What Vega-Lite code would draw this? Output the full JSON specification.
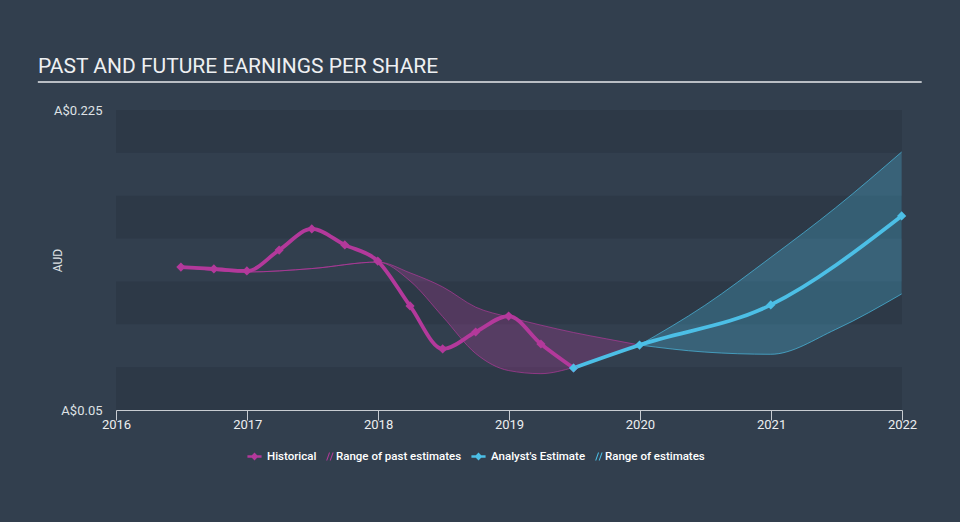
{
  "$schema": "https://vega.github.io/schema/vega-lite/v6.json",
  "autosize": {"type": "none"},
  "width": 786,
  "height": 300,
  "padding": {"left": 116, "top": 110, "right": 58, "bottom": 112},
  "background": "#323f4e",
  "config": {
    "view": {"stroke": null},
    "font": "Roboto"
  },
  "title": {
    "text": "PAST AND FUTURE EARNINGS PER SHARE",
    "anchor": "start",
    "frame": "group",
    "dx": -78,
    "offset": 4,
    "fontSize": 21,
    "font": "Roboto",
    "fontWeight": "normal",
    "color": "#eef0f2"
  },
  "datasets": {
    "bands": [
      {"lo": 0.05, "hi": 0.075, "shade": "dark"},
      {"lo": 0.1, "hi": 0.125, "shade": "dark"},
      {"lo": 0.15, "hi": 0.175, "shade": "dark"},
      {"lo": 0.2, "hi": 0.225, "shade": "dark"}
    ],
    "lines": [
      {"series": "Historical", "date": "2016-06-30", "eps": 0.1334},
      {"series": "Historical", "date": "2016-09-30", "eps": 0.1323},
      {"series": "Historical", "date": "2016-12-31", "eps": 0.1311},
      {"series": "Historical", "date": "2017-03-31", "eps": 0.1433},
      {"series": "Historical", "date": "2017-06-30", "eps": 0.1556},
      {"series": "Historical", "date": "2017-09-30", "eps": 0.1463},
      {"series": "Historical", "date": "2017-12-31", "eps": 0.1369},
      {"series": "Historical", "date": "2018-03-31", "eps": 0.1107},
      {"series": "Historical", "date": "2018-06-30", "eps": 0.0856},
      {"series": "Historical", "date": "2018-09-30", "eps": 0.0955},
      {"series": "Historical", "date": "2018-12-31", "eps": 0.1048},
      {"series": "Historical", "date": "2019-03-31", "eps": 0.0885},
      {"series": "Historical", "date": "2019-06-30", "eps": 0.0745},
      {"series": "Analyst's Estimate", "date": "2019-06-30", "eps": 0.0745},
      {"series": "Analyst's Estimate", "date": "2019-12-31", "eps": 0.0879},
      {"series": "Analyst's Estimate", "date": "2020-12-31", "eps": 0.1113},
      {"series": "Analyst's Estimate", "date": "2021-12-31", "eps": 0.1632}
    ],
    "ranges": [
      {"series": "Range of past estimates", "date": "2016-06-30", "lo": 0.1334, "hi": 0.1334},
      {"series": "Range of past estimates", "date": "2016-12-31", "lo": 0.1305, "hi": 0.1305},
      {"series": "Range of past estimates", "date": "2017-06-30", "lo": 0.1325, "hi": 0.1325},
      {"series": "Range of past estimates", "date": "2017-12-31", "lo": 0.1363, "hi": 0.1363},
      {"series": "Range of past estimates", "date": "2018-03-31", "lo": 0.1253, "hi": 0.13},
      {"series": "Range of past estimates", "date": "2018-06-30", "lo": 0.1045, "hi": 0.1218},
      {"series": "Range of past estimates", "date": "2018-09-30", "lo": 0.083, "hi": 0.11},
      {"series": "Range of past estimates", "date": "2018-12-31", "lo": 0.073, "hi": 0.1042},
      {"series": "Range of past estimates", "date": "2019-03-31", "lo": 0.0712, "hi": 0.0995},
      {"series": "Range of past estimates", "date": "2019-06-30", "lo": 0.0748, "hi": 0.0952},
      {"series": "Range of past estimates", "date": "2019-09-30", "lo": 0.0812, "hi": 0.0915},
      {"series": "Range of past estimates", "date": "2019-12-31", "lo": 0.0879, "hi": 0.0879},
      {"series": "Range of estimates", "date": "2019-12-31", "lo": 0.0879, "hi": 0.0879},
      {"series": "Range of estimates", "date": "2020-06-30", "lo": 0.0838, "hi": 0.111},
      {"series": "Range of estimates", "date": "2020-12-31", "lo": 0.0825, "hi": 0.139},
      {"series": "Range of estimates", "date": "2021-06-30", "lo": 0.097, "hi": 0.168},
      {"series": "Range of estimates", "date": "2021-12-31", "lo": 0.1177, "hi": 0.2005}
    ],
    "underline": [
      {"x1": "2015-05-28", "x2": "2022-02-25", "y": 0.2413}
    ]
  },
  "layer": [
    {
      "data": {"name": "bands"},
      "mark": {"type": "rect", "color": "#2d3947"},
      "encoding": {
        "y": {"field": "lo", "type": "quantitative", "scale": {"domain": [0.05, 0.225], "zero": false, "nice": false}},
        "y2": {"field": "hi"}
      }
    },
    {
      "data": {"name": "ranges"},
      "mark": {"type": "area", "interpolate": "monotone", "fillOpacity": 0.28},
      "encoding": {
        "x": {"field": "date", "type": "temporal"},
        "y": {"field": "lo", "type": "quantitative"},
        "y2": {"field": "hi"},
        "color": {"field": "series", "type": "nominal"},
        "detail": {"field": "series"}
      }
    },
    {
      "data": {"name": "ranges"},
      "mark": {"type": "line", "interpolate": "monotone", "strokeWidth": 0.8, "opacity": 0.85},
      "encoding": {
        "x": {"field": "date", "type": "temporal"},
        "y": {"field": "lo", "type": "quantitative"},
        "color": {"field": "series", "type": "nominal"}
      }
    },
    {
      "data": {"name": "ranges"},
      "mark": {"type": "line", "interpolate": "monotone", "strokeWidth": 0.8, "opacity": 0.85},
      "encoding": {
        "x": {"field": "date", "type": "temporal"},
        "y": {"field": "hi", "type": "quantitative"},
        "color": {"field": "series", "type": "nominal"}
      }
    },
    {
      "data": {"name": "lines"},
      "mark": {"type": "line", "interpolate": "monotone", "strokeWidth": 3.8},
      "encoding": {
        "x": {
          "field": "date", "type": "temporal",
          "scale": {"domain": ["2016-01-01T00:00:00", "2022-01-01T00:00:00"], "nice": false},
          "axis": {
            "title": null, "format": "%Y", "tickCount": {"interval": "year", "step": 1},
            "domainColor": "#c8ccd1", "domainWidth": 1, "tickColor": "#c8ccd1", "tickSize": 10,
            "labelPadding": -2, "labelColor": "#eceef0", "labelFontSize": 13, "labelFont": "Roboto",
            "grid": false, "labelFlush": false
          }
        },
        "y": {
          "field": "eps", "type": "quantitative",
          "axis": {
            "values": [0.05, 0.225], "labelExpr": "'A$' + (datum.value == 0.05 ? '0.05' : '0.225')",
            "domain": false, "ticks": false, "grid": false, "labelPadding": 14,
            "labelColor": "#dfe2e5", "labelFontSize": 13, "labelFont": "Roboto",
            "title": "AUD", "titleColor": "#dfe2e5", "titleFontSize": 12, "titleFont": "Roboto", "titleFontWeight": "normal",
            "titleX": -59, "titleY": 150, "titleAngle": -90, "titleAlign": "center", "titleBaseline": "middle"
          }
        },
        "color": {
          "field": "series", "type": "nominal",
          "scale": {
            "domain": ["Historical", "Range of past estimates", "Analyst's Estimate", "Range of estimates"],
            "range": ["#b3399b", "#b3399b", "#4cbfe6", "#4cbfe6"]
          },
          "legend": {
            "orient": "none", "legendX": 131, "legendY": 339, "direction": "horizontal", "columns": 4,
            "title": null, "labelColor": "#ffffff", "labelFont": "Roboto", "labelFontSize": 11.5, "labelFontWeight": 500,
            "symbolSize": 200, "columnPadding": 9, "labelOffset": 5,
            "encode": {
              "symbols": {
                "update": {
                  "shape": {"signal": "(datum.value == 'Historical' || datum.value == \"Analyst's Estimate\") ? 'M-1,-0.17L1,-0.17L1,0.17L-1,0.17Z M0,-0.55L0.55,0L0,0.55L-0.55,0Z' : 'M-2.45,0.55L-2.05,-0.55L-1.9,-0.55L-2.3,0.55Z M-1.95,0.55L-1.55,-0.55L-1.4,-0.55L-1.8,0.55Z'"},
                  "fill": {"scale": "color", "field": "value"},
                  "stroke": {"value": "transparent"},
                  "strokeWidth": {"value": 0},
                  "opacity": {"value": 1}
                }
              },
              "labels": {
                "update": {
                  "dx": {"signal": "(datum.value == 'Historical' || datum.value == \"Analyst's Estimate\") ? 0 : -20"}
                }
              }
            }
          }
        }
      }
    },
    {
      "data": {"name": "lines"},
      "mark": {"type": "point", "shape": "diamond", "filled": true, "size": 85, "opacity": 1},
      "encoding": {
        "x": {"field": "date", "type": "temporal"},
        "y": {"field": "eps", "type": "quantitative"},
        "color": {"field": "series", "type": "nominal"}
      }
    },
    {
      "data": {"name": "underline"},
      "mark": {"type": "rule", "color": "#b9bec4", "strokeWidth": 2},
      "encoding": {
        "x": {"field": "x1", "type": "temporal"},
        "x2": {"field": "x2"},
        "y": {"field": "y", "type": "quantitative"}
      }
    }
  ]
}
